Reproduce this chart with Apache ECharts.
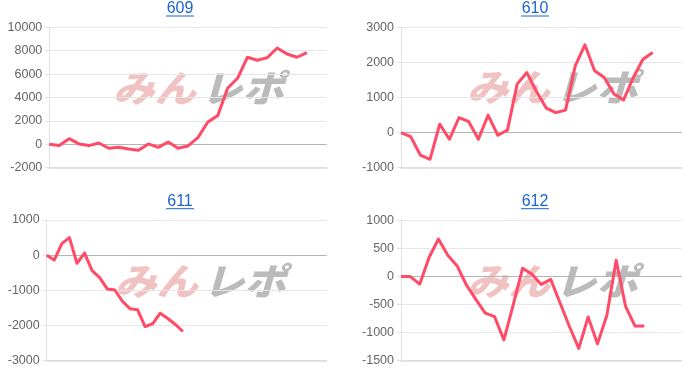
<!DOCTYPE html>
<html>
<head>
<meta charset="utf-8">
<script src="https://cdn.jsdelivr.net/npm/echarts@6/dist/echarts.min.js"></script>
<style>
html,body{margin:0;padding:0;background:#fff;}
#c{width:700px;height:384px;}
</style>
</head>
<body>
<div id="c"></div>
<script>
// ---- data ----
var titles = ['609', '610', '611', '612'];
var catCount = [29, 30, 38, 31];
var s609 = [0,-110,480,30,-110,110,-340,-260,-400,-510,30,-260,200,-340,-140,570,1910,2450,4790,5640,7440,7180,7410,8230,7720,7440,7830];
var s610 = [0,-115,-640,-760,240,-190,430,310,-190,500,-75,70,1380,1710,1170,700,570,640,1900,2500,1760,1570,1100,930,1570,2090,2280];
var s611 = [0,-140,330,500,-230,60,-440,-640,-960,-990,-1310,-1520,-1550,-2030,-1950,-1650,-1800,-1970,-2170];
var s612 = [0,0,-135,340,670,380,190,-155,-405,-650,-714,-1130,-500,150,40,-140,-50,-470,-890,-1280,-720,-1200,-690,290,-530,-880,-880];
var yMin = [-2000, -1000, -3000, -1500];
var yMax = [10000, 3000, 1000, 1000];
var yStep = [2000, 1000, 1000, 500];
var seriesData = [s609, s610, s611, s612];

function cats(n){ var a=[]; for(var i=1;i<=n;i++) a.push(String(i)); return a; }

var grids = [
  {left:49.3, right:373.3, top:27.3, bottom:216.3},
  {left:401, right:18.3, top:27.3, bottom:216.3},
  {left:46.7, right:373.3, top:220, bottom:23.3},
  {left:401, right:18.3, top:220.5, bottom:23.3}
];
var titlePos = [[180, 8.7, 16], [535, 8.7, 16], [180, 201.5, 208.7], [535, 201.5, 208.7]];
var wmPos = [[113, 87.5], [467, 87], [115, 280.5], [467, 280.5]];

var FONT = '"Liberation Sans", Arial, sans-serif';
var xAxes = [], yAxes = [], series = [], graphics = [];
for (var i = 0; i < 4; i++) {
  xAxes.push({
    type:'category', gridIndex:i, data:cats(catCount[i]), boundaryGap:false,
    axisLabel:{show:false}, axisTick:{show:false},
    axisLine:{show:true, onZero:false, lineStyle:{color:'#dcdcdc', width:1.5}},
    splitLine:{show:false}
  });
  yAxes.push({
    type:'value', gridIndex:i, min:yMin[i], max:yMax[i], interval:yStep[i],
    axisLine:{show:true, lineStyle:{color:'#e2e2e2'}},
    axisTick:{show:true, length:4, lineStyle:{color:'#e2e2e2'}},
    axisLabel:{color:'#666', fontSize:12.5, fontFamily:FONT, margin:7,
      formatter:function(v){ return String(v); }},
    splitLine:{show:true, lineStyle:{color:'#e6e6e6', width:1}}
  });
  series.push({
    type:'line', xAxisIndex:i, yAxisIndex:i, data:seriesData[i],
    showSymbol:false, symbol:'none', smooth:false, z:5,
    lineStyle:{color:'#ff4b68', width:3, join:'round'},
    markLine:{silent:true, symbol:'none', label:{show:false},
      lineStyle:{color:'#b5b5b5', type:'solid', width:1}, data:[{yAxis:0}], z:1}
  });
  var tp = titlePos[i];
  graphics.push({type:'text', x:tp[0], y:tp[1], z:100,
    style:{text:titles[i], fill:'#1a66cc', font:'16px ' + FONT, textAlign:'center', textVerticalAlign:'middle'}});
  graphics.push({type:'line', z:100, shape:{x1:tp[0]-14, y1:tp[2], x2:tp[0]+14, y2:tp[2]},
    style:{stroke:'#1a66cc', lineWidth:1}});
  var wp = wmPos[i];
  graphics.push({type:'text', x:wp[0], y:wp[1], z:-1, zlevel:0, silent:true, scaleX:1.12,
    style:{text:'みん', fill:'rgba(222,120,120,0.45)', font:'italic 900 37px "Noto Sans CJK JP", sans-serif',
      textAlign:'left', textVerticalAlign:'middle'}});
  graphics.push({type:'text', x:wp[0] + 88, y:wp[1], z:-1, zlevel:0, silent:true, scaleX:1.12,
    style:{text:'レポ', fill:'rgba(120,120,120,0.5)', font:'italic 900 37px "Noto Sans CJK JP", sans-serif',
      textAlign:'left', textVerticalAlign:'middle'}});
}

var chart = echarts.init(document.getElementById('c'), null, {renderer:'canvas'});
chart.setOption({
  animation:false,
  backgroundColor:'#fff',
  grid:grids,
  xAxis:xAxes,
  yAxis:yAxes,
  series:series,
  graphic:graphics
});
</script>
</body>
</html>
